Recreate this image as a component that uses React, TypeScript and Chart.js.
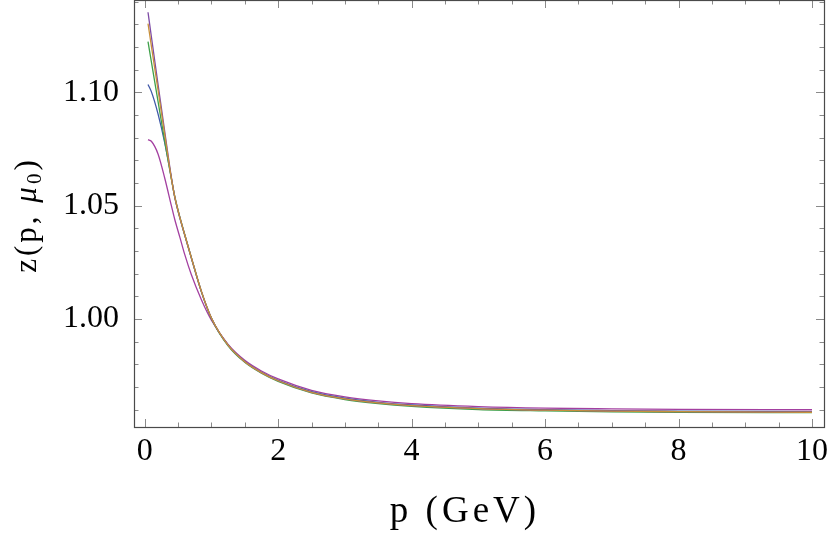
import React, { useEffect, useRef } from "react";
import { Chart, registerables } from "chart.js";

Chart.register(...registerables);

const P = [0.05, 0.1, 0.2, 0.3, 0.4, 0.45, 0.53, 0.6, 0.7, 0.85, 1.0, 1.25, 1.5, 1.75, 2.0, 2.5, 3.0, 3.5, 4.0, 5.0, 6.0, 7.0, 8.0, 10.0];

const zPurpleTop = [1.1353, 1.1246, 1.1035, 1.0828, 1.0625, 1.054, 1.0445, 1.0372, 1.027, 1.0122, 1.0005, 0.9885, 0.9812, 0.9764, 0.9728, 0.9677, 0.9648, 0.963, 0.9618, 0.9605, 0.9598, 0.9594, 0.9592, 0.9589];
const zOrange = [1.1303, 1.1205, 1.101, 1.0815, 1.062, 1.054, 1.0445, 1.0372, 1.027, 1.0122, 1.0005, 0.9885, 0.9812, 0.9764, 0.9728, 0.9677, 0.9648, 0.963, 0.9618, 0.9605, 0.9598, 0.9594, 0.9592, 0.9589];
const zGreen = [1.1223, 1.1135, 1.096, 1.0785, 1.0618, 1.0542, 1.0447, 1.0373, 1.0271, 1.0121, 1.0003, 0.9882, 0.9809, 0.9761, 0.9725, 0.9674, 0.9645, 0.9627, 0.9615, 0.9601, 0.9595, 0.9591, 0.9589, 0.9587];
const zBlue = [1.1034, 1.1003, 1.0905, 1.0778, 1.0622, 1.0538, 1.0443, 1.037, 1.0268, 1.012, 1.0004, 0.9885, 0.9813, 0.9765, 0.973, 0.968, 0.9651, 0.9633, 0.9621, 0.9607, 0.96, 0.9596, 0.9594, 0.9592];
const zMagenta = [1.0791, 1.0784, 1.0728, 1.0622, 1.05, 1.044, 1.0358, 1.0285, 1.0195, 1.0085, 0.9995, 0.9888, 0.9818, 0.9771, 0.9736, 0.9686, 0.9657, 0.9639, 0.9627, 0.9614, 0.9607, 0.9604, 0.9602, 0.96];

const xTicks = [0, 2, 4, 6, 8, 10];
const yTicks = [1.0, 1.05, 1.1];

const xTitle = "p (GeV)";
const yTitleParts = ["z(p, ", "μ", "0", ")"];

const X_MIN = -0.16;
const X_MAX = 10.18;
const Y_MIN = 0.9524;
const Y_MAX = 1.1407;

const SERIF = "'Liberation Serif', 'Times New Roman', serif";

const series = [
  { data: zOrange, color: "#C8903A" },
  { data: zPurpleTop, color: "#7D4BA5" },
  { data: zGreen, color: "#3FA04A" },
  { data: zBlue, color: "#3F58A8" },
  { data: zMagenta, color: "#A33FA0" },
];

const framePlugin = {
  id: "frame",
  afterDatasetsDraw(chart: any) {
    const { ctx, chartArea } = chart;
    const xs = chart.scales.x;
    const ys = chart.scales.y;
    const { left, right, top, bottom } = chartArea;
    ctx.save();
    ctx.strokeStyle = "#8a8a8a";
    ctx.lineWidth = 1;
    const major = 8;
    const minor = 4.5;
    for (let i = 0; i <= 20; i++) {
      const v = i * 0.5;
      const len = i % 4 === 0 ? major : minor;
      const x = Math.round(xs.getPixelForValue(v)) + 0.5;
      ctx.beginPath();
      ctx.moveTo(x, bottom);
      ctx.lineTo(x, bottom - len);
      ctx.moveTo(x, top);
      ctx.lineTo(x, top + len);
      ctx.stroke();
    }
    for (let i = 96; i <= 114; i++) {
      const v = i / 100;
      const len = i % 5 === 0 ? major : minor;
      const y = Math.round(ys.getPixelForValue(v)) + 0.5;
      ctx.beginPath();
      ctx.moveTo(left, y);
      ctx.lineTo(left + len, y);
      ctx.moveTo(right, y);
      ctx.lineTo(right - len, y);
      ctx.stroke();
    }
    ctx.strokeStyle = "#4a4a4a";
    ctx.lineWidth = 1.2;
    ctx.strokeRect(left + 0.5, top + 0.5, right - left, bottom - top);
    ctx.restore();

    // x axis title
    ctx.save();
    ctx.fillStyle = "#000";
    ctx.font = `37px ${SERIF}`;
    (ctx as any).letterSpacing = "4px";
    ctx.textAlign = "center";
    ctx.textBaseline = "alphabetic";
    ctx.fillText(xTitle, 465, 522);
    ctx.restore();

    // y axis title: z(p, μ0)
    ctx.save();
    ctx.fillStyle = "#000";
    (ctx as any).letterSpacing = "3px";
    ctx.translate(36, 215);
    ctx.rotate(-Math.PI / 2);
    ctx.textBaseline = "alphabetic";
    ctx.textAlign = "left";
    const size = 31;
    const fonts = [
      `${size}px ${SERIF}`,
      `italic ${size}px ${SERIF}`,
      `${Math.round(size * 0.68)}px ${SERIF}`,
      `${size}px ${SERIF}`,
    ];
    const dys = [0, 0, 5, 0];
    let total = 0;
    yTitleParts.forEach((t, i) => {
      ctx.font = fonts[i];
      total += ctx.measureText(t).width;
    });
    let cx = -total / 2;
    yTitleParts.forEach((t, i) => {
      ctx.font = fonts[i];
      ctx.fillText(t, cx, dys[i]);
      cx += ctx.measureText(t).width;
    });
    ctx.restore();
  },
};

export default function App() {
  const ref = useRef<HTMLCanvasElement | null>(null);
  useEffect(() => {
    document.body.style.margin = "0";
    const canvas = ref.current;
    if (!canvas) return;
    const chart = new Chart(canvas, {
      type: "line",
      data: {
        datasets: series.map((s) => ({
          data: P.map((p, i) => ({ x: p, y: s.data[i] })),
          borderColor: s.color,
          borderWidth: 1.3,
          pointRadius: 0,
          fill: false,
          cubicInterpolationMode: "monotone" as const,
        })),
      },
      options: {
        responsive: false,
        animation: false,
        devicePixelRatio: 1,
        layout: { padding: { top: 0, right: 6, left: 0, bottom: 0 } },
        plugins: { legend: { display: false }, tooltip: { enabled: false } },
        scales: {
          x: {
            type: "linear",
            min: X_MIN,
            max: X_MAX,
            grid: { display: false, drawTicks: false },
            border: { display: false },
            afterBuildTicks: (s: any) => {
              s.ticks = xTicks.map((v) => ({ value: v }));
            },
            afterFit: (s: any) => {
              s.height = 106;
              s.paddingLeft = 0;
              s.paddingRight = 0;
            },
            ticks: {
              color: "#000",
              padding: 5,
              maxRotation: 0,
              font: { family: SERIF, size: 32 },
              callback: (v: any) => String(v),
            },
          },
          y: {
            type: "linear",
            min: Y_MIN,
            max: Y_MAX,
            grid: { display: false, drawTicks: false },
            border: { display: false },
            afterBuildTicks: (s: any) => {
              s.ticks = yTicks.map((v) => ({ value: v }));
            },
            afterFit: (s: any) => {
              s.width = 134;
              s.paddingTop = 0;
              s.paddingBottom = 0;
            },
            ticks: {
              color: "#000",
              padding: 15,
              font: { family: SERIF, size: 32 },
              callback: (v: any) => Number(v).toFixed(2),
            },
          },
        },
      },
      plugins: [framePlugin],
    });
    return () => chart.destroy();
  }, []);
  return (
    <div style={{ width: 830, height: 533 }}>
      <canvas ref={ref} width={830} height={533} style={{ display: "block" }} />
    </div>
  );
}
